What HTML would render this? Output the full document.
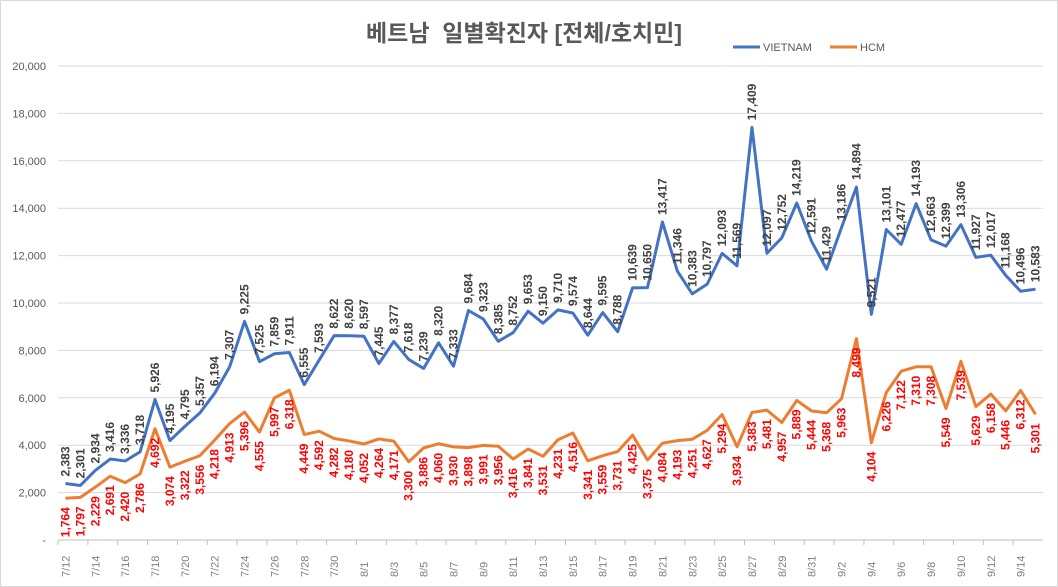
<!DOCTYPE html>
<html><head><meta charset="utf-8">
<style>
body{margin:0;background:#fff;}
svg{display:block;font-family:"Liberation Sans","Noto Sans CJK KR",sans-serif;}
</style></head>
<body>
<svg id="chart" width="1058" height="587" viewBox="0 0 1058 587" xmlns="http://www.w3.org/2000/svg">
<rect x="0.5" y="0.5" width="1057" height="586" fill="#fff" stroke="#d9d9d9"/>
<text x="524" y="41" text-anchor="middle" font-size="23" font-weight="bold" fill="#595959">베트남&#160;&#160;일별확진자 [전체/호치민]</text>
<g>
<line x1="733" y1="47" x2="760" y2="47" stroke="#4472c4" stroke-width="3"/>
<text x="763" y="51" font-size="11" fill="#595959">VIETNAM</text>
<line x1="830" y1="47" x2="857" y2="47" stroke="#ed7d31" stroke-width="3"/>
<text x="860" y="51" font-size="11" fill="#595959">HCM</text>
</g>
<g id="grid"></g><g id="axes"></g><g id="series"></g><g id="labels"></g>
</svg>
<script>
const dates = [];
const yTicks = [0,2000,4000,6000,8000,10000,12000,14000,16000,18000,20000];
const vietnam = [2383,2301,2934,3416,3336,3718,5926,4195,4795,5357,6194,7307,9225,7525,7859,7911,6555,7593,8622,8620,
8597,7445,8377,7618,7239,8320,7333,9684,9323,8385,8752,9653,9150,9710,9574,8644,9595,8788,10639,10650,13417,11346,10383,10797,12093,11569,17409,12097,12752,14219,12591,
11429,13186,14894,9521,13101,12477,14193,12663,12399,13306,11927,12017,11168,10496,10583];
const hcm = [1764,1797,2229,2691,2420,2786,4692,3074,3322,3556,4218,4913,5396,4555,5997,6318,4449,4592,4282,4180,
4052,4264,4171,3300,3886,4060,3930,3898,3991,3956,3416,3841,3531,4231,4516,3341,3559,3731,4425,3375,4084,4193,4251,4627,5294,3934,5383,5481,4957,5889,5444,
5368,5963,8499,4104,6226,7122,7310,7308,5549,7539,5629,6158,5446,6312,5301];
for(let d=12;d<=31;d++)dates.push('7/'+d);
for(let d=1;d<=31;d++)dates.push('8/'+d);
for(let d=1;d<=15;d++)dates.push('9/'+d);

const NS='http://www.w3.org/2000/svg';
const X0=58,X1=1043,Y0=540,Y1=66,YMAX=20000;
const step=(X1-X0)/dates.length;
const xc=i=>X0+(i+0.5)*step;
const y=v=>Y0-(v/YMAX)*(Y0-Y1);
const fmt=v=>v.toLocaleString('en-US');
function mk(tag,attrs,parent,text){const e=document.createElementNS(NS,tag);for(const k in attrs)e.setAttribute(k,attrs[k]);if(text!==undefined)e.textContent=text;parent.appendChild(e);return e;}
const grid=document.getElementById('grid'),axes=document.getElementById('axes'),series=document.getElementById('series'),labels=document.getElementById('labels');

yTicks.forEach(t=>{
  const l=mk('line',{x1:X0,x2:X1,y1:y(t),y2:y(t),stroke:t===0?'#bfbfbf':'#d9d9d9','stroke-width':1},grid);
  
  
  const tx=mk('text',{x:46,y:y(t)+4,'text-anchor':'end','font-size':11,fill:'#595959'},axes,t===0?'-':fmt(t));
  
  
});
dates.forEach((d,i)=>{
  if(i%2===0){
    const tk=mk('line',{x1:X0+i*step,x2:X0+i*step,y1:Y0,y2:Y0+5,stroke:'#bfbfbf'},axes);
    
    
    const cx=xc(i)+4;
    const t=mk('text',{x:cx,y:577,transform:`rotate(-90 ${cx} 577)`,'font-size':11,fill:'#7f7f7f'},axes,d);
    
    
  }
});
function drawSeries(vals,color,name,labelColor,above){
  const p=mk('polyline',{points:vals.map((v,i)=>xc(i)+','+y(v)).join(' '),fill:'none',stroke:color,'stroke-width':3,'stroke-linejoin':'round'},series);
  
  
  vals.forEach((v,i)=>{
    const cx=xc(i)+4, cy=above?y(v)-7:y(v)+9;
    const t=mk('text',{x:cx,y:cy,transform:`rotate(-90 ${cx} ${cy})`,'text-anchor':above?'start':'end','font-size':12,'font-weight':'bold',fill:labelColor},labels,fmt(v));
    
    
  });
}
drawSeries(vietnam,'#4472c4','vietnam','#404040',true);
drawSeries(hcm,'#ed7d31','hcm','#ff0000',false);
</script>
</body></html>
